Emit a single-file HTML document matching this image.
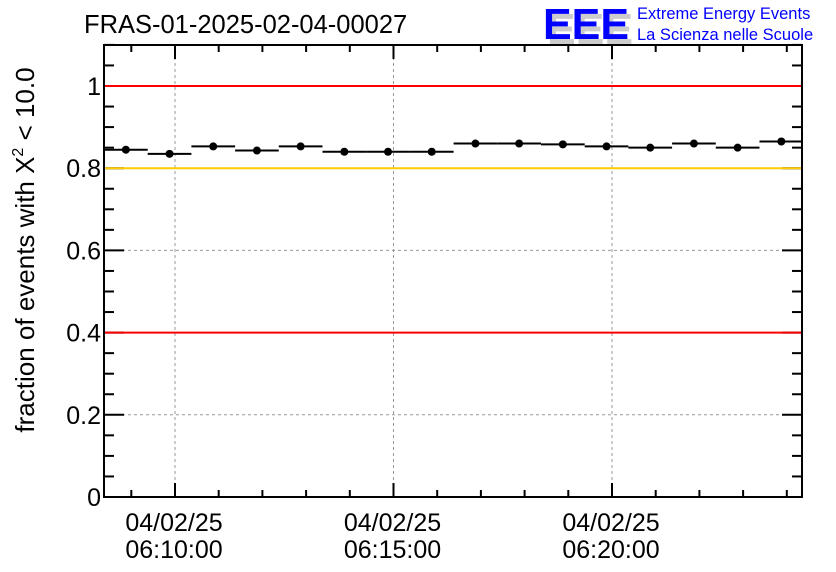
<!DOCTYPE html>
<html><head><meta charset="utf-8"><style>
body{margin:0;background:#fff;}
svg{display:block;font-family:"Liberation Sans",sans-serif;}
</style></head><body>
<svg id="chart" width="836" height="572">
<text x="84" y="33" font-size="25.5" fill="#000">FRAS-01-2025-02-04-00027</text>
<g>
<text x="547" y="44" font-size="44" font-weight="bold" fill="#ccc" textLength="86" lengthAdjust="spacingAndGlyphs">EEE</text>
<text x="543" y="39" font-size="44" font-weight="bold" fill="#0000ff" textLength="86" lengthAdjust="spacingAndGlyphs">EEE</text>
<text x="637" y="19" font-size="16.5" fill="#0000ff">Extreme Energy Events</text>
<text x="637" y="40" font-size="16.5" fill="#0000ff">La Scienza nelle Scuole</text>
</g>
<text transform="translate(34,250) rotate(-90)" text-anchor="middle" font-size="26" fill="#000">fraction of events with X<tspan dy="-11" font-size="16">2</tspan><tspan dy="11"> &lt; 10.0</tspan></text>
<g id="plot"></g>
</svg>
<script>
const binStartMinutes=[8.375,9.375,10.375,11.375,12.375,13.375,14.375,15.375,16.375,17.375,18.375,19.375,20.375,21.375,22.375,23.375];
const fractions=[0.845,0.835,0.853,0.843,0.853,0.840,0.840,0.840,0.860,0.860,0.858,0.853,0.850,0.860,0.850,0.865];
const yTicks=[0,0.2,0.4,0.6,0.8,1];
const yTickLabels=["0","0.2","0.4","0.6","0.8","1"];
const xMajorMinutes=[10,15,20];
const xMajorLabels=["06:10:00","06:15:00","06:20:00"];
const dateLabel="04/02/25";
const refLines=[1.0,0.8,0.4];
const refColors=["#ff0000","#ffcc00","#ff0000"];

const L=104,R=802,T=45,B=497;
const x=t=>175+(t-10)*43.7;
const y=v=>B-v*411;
const NS="http://www.w3.org/2000/svg";
const g=document.getElementById('plot');
function mk(tag,a){const e=document.createElementNS(NS,tag);for(const k in a)e.setAttribute(k,a[k]);g.appendChild(e);return e;}

// grid
yTicks.forEach(v=>{if(v>0&&v<1.1){const e=mk('line',{x1:L,x2:R,y1:y(v),y2:y(v),stroke:'#999','stroke-dasharray':'3,3','stroke-width':1});

}});
xMajorMinutes.forEach(t=>{const e=mk('line',{x1:x(t),x2:x(t),y1:T,y2:B,stroke:'#999','stroke-dasharray':'3,3','stroke-width':1});

});
// ticks
for(let v=0;v<=1.1001;v+=0.05){const major=Math.abs(v/0.2-Math.round(v/0.2))<1e-6;const len=major?20:10;
mk('line',{x1:L,x2:L+len,y1:y(v),y2:y(v),stroke:'#000','stroke-width':2});
mk('line',{x1:R,x2:R-len,y1:y(v),y2:y(v),stroke:'#000','stroke-width':2});}
for(let t=9;t<=24;t++){if(x(t)>R)break;const major=t%5===0;const len=major?14:7;
mk('line',{x1:x(t),x2:x(t),y1:B,y2:B-len,stroke:'#000','stroke-width':2});
mk('line',{x1:x(t),x2:x(t),y1:T,y2:T+len,stroke:'#000','stroke-width':2});}
// reference lines
refLines.forEach((v,i)=>{const e=mk('line',{x1:L,x2:R,y1:y(v),y2:y(v),stroke:refColors[i],'stroke-width':2});

});
// frame
const fr=mk('rect',{x:L,y:T,width:R-L,height:B-T,fill:'none',stroke:'#000','stroke-width':2});


// y labels
yTicks.forEach((v,i)=>{const e=mk('text',{x:L-3,y:y(v)+9,'text-anchor':'end','font-size':25,fill:'#000'});e.textContent=yTickLabels[i];

});
// x labels
xMajorMinutes.forEach((t,i)=>{
const a=mk('text',{x:x(t)-1,y:531,'text-anchor':'middle','font-size':25,fill:'#000'});a.textContent=dateLabel;


const b=mk('text',{x:x(t)-1,y:558,'text-anchor':'middle','font-size':25,fill:'#000'});b.textContent=xMajorLabels[i];

});
// data
binStartMinutes.forEach((t,i)=>{const x0=Math.max(L,x(t)),x1=Math.min(R,x(t+1));const yy=y(fractions[i]);
const l=mk('line',{x1:x0,x2:x1,y1:yy,y2:yy,stroke:'#000','stroke-width':2});


const c=mk('circle',{cx:x(t+0.5),cy:yy,r:4,fill:'#000'});

});
</script>
</body></html>
